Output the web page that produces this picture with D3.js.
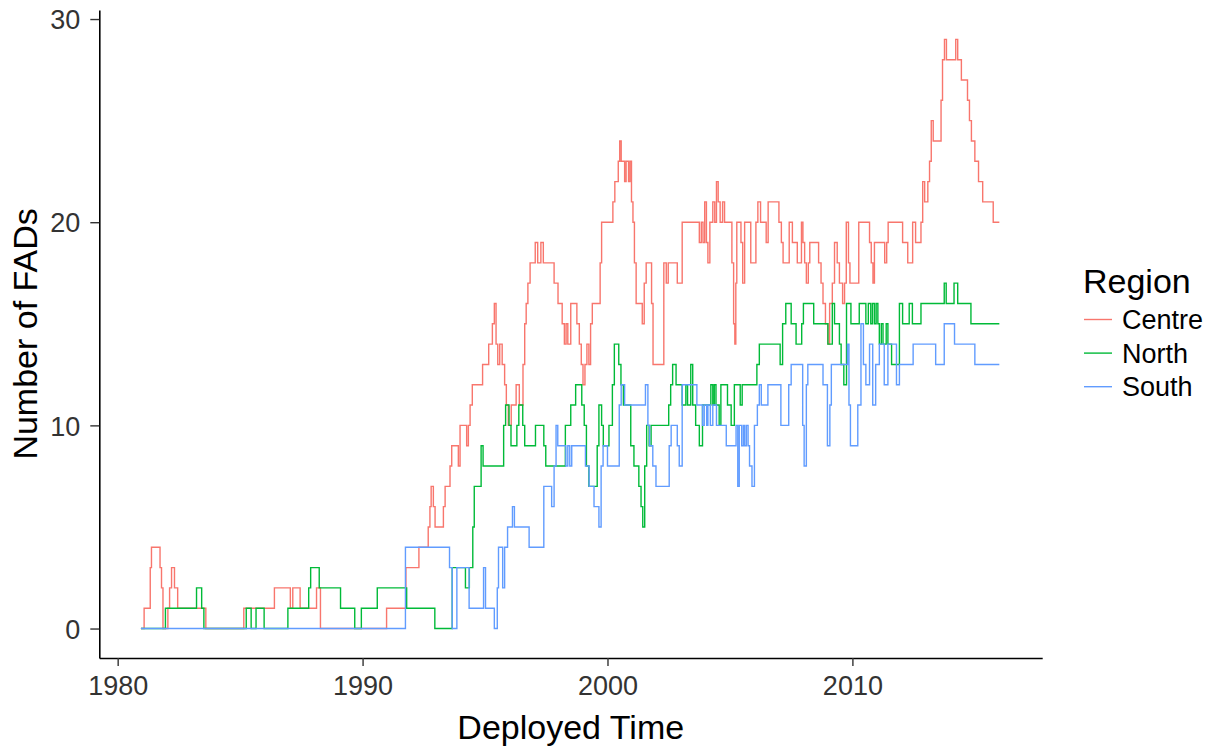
<!DOCTYPE html>
<html>
<head>
<meta charset="utf-8">
<script src="https://cdn.jsdelivr.net/npm/d3@7"></script>
<style>
  html, body { margin: 0; padding: 0; background: #ffffff; }
  svg { display: block; font-family: "Liberation Sans", Arial, Helvetica, sans-serif; }
</style>
</head>
<body>
<svg id="chart" width="1211" height="748"></svg>
<script>
// ---- data ----
const regions = ["Centre", "North", "South"];
const colours = ["#F8766D", "#00BA38", "#619CFF"];
const xTicks = [1980, 1990, 2000, 2010];
const yTicks = [0, 10, 20, 30];

const centre = [
[1980.95,0],[1981.08,1],[1981.33,3],[1981.38,4],[1981.73,3],[1981.79,2],[1981.85,0],
[1982.05,1],[1982.12,2],[1982.2,3],[1982.32,2],[1982.45,1],[1983.6,0],
[1985.15,1],[1986.4,2],[1987.05,1],[1987.15,2],[1987.45,1],[1988.12,2],[1988.28,0],
[1990.98,1],[1991.77,3],[1992.3,4],[1992.68,5],[1992.75,6],[1992.8,7],[1992.89,6],[1992.96,5],
[1993.3,6],[1993.37,7],[1993.57,8],[1993.64,9],[1993.91,8],[1993.98,10],[1994.25,9],[1994.32,10],[1994.39,11],[1994.48,12],[1994.9,13],
[1995.15,14],[1995.3,15],[1995.38,16],[1995.45,14],[1995.52,13],[1995.6,14],[1995.7,13],[1995.8,12],[1995.87,11],[1995.95,10],
[1996.07,11],[1996.27,12],[1996.4,11],[1996.55,13],[1996.62,15],[1996.68,16],[1996.75,17],[1996.84,18],
[1997.05,19],[1997.15,18],[1997.28,19],[1997.38,18],[1997.82,17],[1997.98,16],
[1998.15,15],[1998.24,14],[1998.31,15],[1998.38,14],[1998.5,16],[1998.75,15],[1998.85,14],[1998.93,13],
[1999.0,12],[1999.08,13],[1999.16,14],[1999.24,13],[1999.31,15],[1999.38,16],[1999.7,18],[1999.76,20],
[2000.22,21],[2000.3,22],[2000.44,23],[2000.5,24],[2000.56,23],[2000.7,22],[2000.76,23],[2000.86,22],[2000.92,23],[2000.98,21],
[2001.04,20],[2001.1,18],[2001.17,16],[2001.42,15],[2001.5,17],[2001.58,18],[2001.8,16],[2001.86,13],
[2002.3,18],[2002.4,17],[2002.48,18],[2002.85,17],[2003.05,20],[2003.75,19],[2003.83,20],[2003.9,19],[2003.97,21],
[2004.04,19],[2004.1,18],[2004.18,20],[2004.3,21],[2004.38,20],[2004.45,22],[2004.52,21],[2004.6,20],[2004.7,21],[2004.78,20],
[2005.08,18],[2005.15,15],[2005.2,14],[2005.24,17],[2005.28,20],[2005.45,19],[2005.52,17],[2005.6,20],[2005.85,18],
[2006.06,20],[2006.14,21],[2006.25,20],[2006.48,19],[2006.56,21],[2007.0,20],[2007.1,19],[2007.17,18],[2007.42,20],[2007.55,19],[2007.75,18],[2007.92,20],[2007.98,19],
[2008.05,18],[2008.12,17],[2008.2,18],[2008.26,19],[2008.62,18],[2008.72,17],[2008.8,16],[2008.9,15],[2009.0,14],[2009.07,16],[2009.18,17],[2009.27,19],[2009.38,18],[2009.47,17],[2009.6,16],[2009.68,17],[2009.75,20],[2009.84,18],[2009.9,17],
[2010.26,20],[2010.7,19],[2010.77,18],[2010.84,17],[2010.9,19],[2011.32,18],[2011.4,19],[2011.46,20],[2012.05,19],[2012.26,18],[2012.46,20],[2012.58,19],[2012.8,20],[2012.87,22],[2012.95,21],
[2013.08,22],[2013.15,23],[2013.22,25],[2013.3,24],[2013.62,26],[2013.68,28],[2013.76,29],[2013.84,28],[2014.22,29],[2014.3,28],[2014.45,27],[2014.7,26],[2014.78,25],[2014.86,24],[2015.0,23],[2015.15,22],[2015.32,21],[2015.75,20],[2016.0,20]
];

const north = [
[1980.95,0],[1981.95,1],[1983.22,2],[1983.43,1],[1983.52,0],
[1985.25,1],[1985.45,0],[1985.65,1],[1985.98,0],[1986.95,1],[1987.8,2],[1987.88,3],[1988.23,2],[1989.1,1],[1989.68,0],[1989.95,1],[1990.6,2],[1991.8,1],[1992.95,0],
[1993.66,3],[1994.2,2],[1994.36,3],[1994.5,5],[1994.56,7],[1994.84,9],[1994.92,8],[1995.76,10],[1995.84,11],[1995.98,10],[1996.06,9],[1996.3,10],[1996.38,11],[1996.54,10],[1996.62,9],[1997.06,10],[1997.4,9],[1997.48,8],
[1998.28,10],[1998.5,11],[1998.7,12],[1998.95,11],[1999.05,10],[1999.14,8],[1999.24,7],[1999.58,9],[1999.65,11],[1999.76,10],[1999.83,9],
[2000.06,10],[2000.2,12],[2000.28,14],[2000.46,13],[2000.55,12],[2000.65,11],[2000.95,9],[2001.08,8],[2001.28,7],[2001.37,6],[2001.44,5],[2001.52,8],[2001.6,10],[2001.7,9],[2001.78,10],
[2002.5,11],[2002.58,12],[2002.66,13],[2002.8,12],[2003.05,11],[2003.2,12],[2003.27,11],[2003.4,13],[2003.48,11],[2003.6,10],[2003.75,9],[2003.88,11],
[2004.22,12],[2004.3,11],[2004.36,12],[2004.43,11],[2004.56,10],[2004.63,12],[2004.9,11],[2005.05,10],[2005.18,12],[2005.42,11],[2005.5,12],
[2006.1,13],[2006.2,14],[2007.05,13],[2007.15,15],[2007.28,16],[2007.5,15],[2007.7,14],[2007.93,15],[2008.0,16],[2008.42,15],[2009.0,14],[2009.18,16],[2009.27,15],[2009.47,14],[2009.54,13],[2009.65,12],[2009.76,16],[2009.94,15],
[2010.28,16],[2010.55,15],[2010.65,16],[2010.75,15],[2010.82,16],[2010.9,15],[2010.97,16],[2011.04,15],[2011.1,14],[2011.18,15],[2011.25,14],[2011.38,15],[2011.45,14],[2011.6,13],[2011.92,16],[2012.05,15],[2012.32,16],[2012.45,15],[2012.8,16],
[2013.75,17],[2013.83,16],[2014.15,17],[2014.3,16],[2014.84,15],[2016.0,15]
];

const south = [
[1980.95,0],[1991.75,4],[1993.55,3],[1993.66,0],[1993.85,3],[1994.35,1],[1994.94,3],[1995.02,1],[1995.38,0],[1995.5,2],[1995.55,4],[1995.72,2],[1995.8,4],[1995.92,5],[1996.12,6],[1996.2,5],[1996.8,4],[1997.4,7],[1997.72,6],[1997.82,8],[1997.9,10],[1997.97,9],
[1998.3,8],[1998.38,9],[1998.46,8],[1998.54,9],[1999.1,8],[1999.25,7],[1999.45,6],[1999.65,5],[1999.74,8],[1999.82,9],[2000.0,8],[2000.48,11],[2000.56,12],[2000.7,11],[2001.55,12],[2001.65,10],[2001.72,9],[2001.85,8],[2001.98,7],
[2002.52,9],[2002.6,10],[2002.85,9],[2002.93,8],[2003.05,12],[2003.65,11],[2003.88,10],[2003.95,11],[2004.05,10],[2004.1,11],[2004.2,10],[2004.3,11],[2004.45,10],[2004.85,9],[2005.25,10],[2005.32,7],[2005.38,10],[2005.48,9],[2005.55,10],[2005.6,9],[2005.67,10],[2005.74,9],[2005.8,8],[2005.9,7],
[2006.0,10],[2006.12,11],[2006.2,12],[2006.28,11],[2006.55,12],[2007.08,10],[2007.4,12],[2007.5,13],[2007.97,10],[2008.03,8],[2008.12,12],[2008.18,13],[2008.8,12],[2008.98,9],[2009.08,11],[2009.14,13],[2009.8,14],[2009.86,11],[2009.92,9],
[2010.22,11],[2010.35,15],[2010.45,13],[2010.55,12],[2010.7,14],[2010.83,11],[2010.95,13],[2011.1,14],[2011.3,12],[2011.45,14],[2011.8,12],[2011.92,13],[2012.48,14],[2013.4,13],[2013.75,15],[2014.17,14],[2015.0,13],[2016.0,13]
];

const seriesData = [centre, north, south];

// ---- layout ----
const panel = { left: 99.3, right: 1042.2, top: 9.9, bottom: 658 };
const svg = d3.select("#chart");

const x = d3.scaleLinear().domain([1979.25, 2017.75]).range([panel.left, panel.right]);
const y = d3.scaleLinear().domain([-1.45, 30.45]).range([panel.bottom, panel.top]);

const line = d3.line()
  .x(d => x(d[0]))
  .y(d => y(d[1]))
  .curve(d3.curveStepAfter);

const colour = d3.scaleOrdinal().domain(regions).range(colours);

svg.append("g")
  .selectAll("path")
  .data(regions.map((r, i) => ({ region: r, values: seriesData[i] })))
  .join("path")
  .attr("fill", "none")
  .attr("stroke", d => colour(d.region))
  .attr("stroke-width", 1.4)
  .attr("stroke-linejoin", "miter")
  .attr("d", d => line(d.values));

// axes
const xAxis = svg.append("g")
  .attr("transform", `translate(0,${panel.bottom})`)
  .call(d3.axisBottom(x).tickValues(xTicks).tickFormat(d3.format("d")).tickSize(8).tickSizeOuter(0).tickPadding(10));
const yAxis = svg.append("g")
  .attr("transform", `translate(${panel.left},0)`)
  .call(d3.axisLeft(y).tickValues(yTicks).tickSize(9).tickSizeOuter(0).tickPadding(10));

[xAxis, yAxis].forEach(a => {
  a.select(".domain").attr("stroke", "#000").attr("stroke-width", 1.6);
  a.selectAll(".tick line").attr("stroke", "#333").attr("stroke-width", 1.4);
  a.selectAll(".tick text").attr("fill", "#333").style("font-size", "27px")
    .style("font-family", "'Liberation Sans', Arial, sans-serif");
});
xAxis.selectAll(".tick text").attr("dy", "0.72em");
yAxis.selectAll(".tick text").attr("dy", "0.36em");

// axis titles
svg.append("text")
  .attr("x", (panel.left + panel.right) / 2)
  .attr("y", 739)
  .attr("text-anchor", "middle")
  .style("font-size", "34px")
  .attr("fill", "#000")
  .text("Deployed Time");

svg.append("text")
  .attr("transform", `translate(37,${(panel.top + panel.bottom) / 2}) rotate(-90)`)
  .attr("text-anchor", "middle")
  .style("font-size", "34px")
  .attr("fill", "#000")
  .text("Number of FADs");

// legend
const legend = svg.append("g").attr("transform", "translate(1083,0)");
legend.append("text")
  .attr("x", 0).attr("y", 293)
  .style("font-size", "34px")
  .attr("fill", "#000")
  .text("Region");
const keyY = d3.scalePoint().domain(regions).range([319.5, 386.7]);
const items = legend.selectAll("g.item").data(regions).join("g").attr("class", "item")
  .attr("transform", d => `translate(0,${keyY(d)})`);
items.append("line")
  .attr("x1", 1).attr("x2", 29).attr("y1", 0).attr("y2", 0)
  .attr("stroke", d => colour(d)).attr("stroke-width", 1.4);
items.append("text")
  .attr("x", 39).attr("y", 0).attr("dy", "0.36em")
  .style("font-size", "27px")
  .attr("fill", "#000")
  .text(d => d);
</script>
</body>
</html>
